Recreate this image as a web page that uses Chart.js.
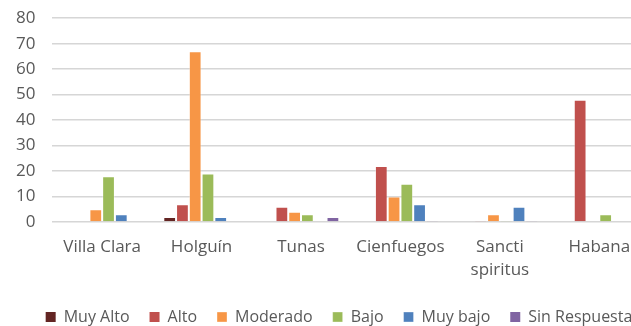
<!DOCTYPE html>
<html>
<head>
<meta charset="utf-8">
<script src="https://cdn.jsdelivr.net/npm/chart.js@4.4.1/dist/chart.umd.min.js"></script>
<style>
    html, body { margin: 0; padding: 0; overflow: hidden; background: #fff; }
    #wrap { position: absolute; left: 0; top: 0; }
</style>
</head>
<body>
<div id="wrap"><canvas id="chart" width="670" height="335"></canvas></div>
<script>
// provinces on the x axis (arrays = two-line labels)
const provincias = ["Villa Clara", "Holguín", "Tunas", "Cienfuegos", ["Sancti", "spiritus"], "Habana"];

// one series per risk level
const muyAlto      = [0, 2, 0, 0, 0, 0];
const alto         = [0, 7, 6, 22, 0.5, 48];
const moderado     = [5, 67, 4, 10, 3, 0];
const bajo         = [18, 19, 3, 15, 0.5, 3];
const muyBajo      = [3, 2, 0, 7, 6, 0];
const sinRespuesta = [0, 0, 2, 0.5, 0.5, 0];

const yTicks = { min: 0, max: 80, step: 10 };

const textColor = "#595959";
const fontFamily = "'Open Sans', 'Liberation Sans', sans-serif";

const series = [
    { label: "Muy Alto", data: muyAlto, color: "#632523" },
    { label: "Alto", data: alto, color: "#C0504D" },
    { label: "Moderado", data: moderado, color: "#F79646" },
    { label: "Bajo", data: bajo, color: "#9BBB59" },
    { label: "Muy bajo", data: muyBajo, color: "#4F81BD" },
    { label: "Sin Respuesta", data: sinRespuesta, color: "#8064A2" }
];

new Chart(document.getElementById("chart"), {
    type: "bar",
    data: {
        labels: provincias,
        datasets: series.map(s => ({
            label: s.label,
            data: s.data,
            backgroundColor: s.color,
            borderColor: "rgba(255,255,255,0.35)",
            borderWidth: ctx => (ctx.raw ? 1 : 0),
            categoryPercentage: 0.77,
            barPercentage: 1.0
        }))
    },
    options: {
        responsive: false,
        animation: false,
        layout: { padding: { top: 0, left: 8, right: 0, bottom: 0 } },
        plugins: {
            tooltip: { enabled: false },
            legend: {
                position: "bottom",
                labels: {
                    boxWidth: 10,
                    boxHeight: 10,
                    padding: 20,
                    color: textColor,
                    font: { family: fontFamily, size: 16 }
                }
            }
        },
        scales: {
            x: {
                grid: { display: false, drawTicks: false },
                border: { display: false },
                ticks: {
                    color: textColor,
                    padding: 14,
                    maxRotation: 0,
                    autoSkip: false,
                    font: { family: fontFamily, size: 17, lineHeight: 1.35 }
                },
                afterFit: scale => { scale.height = 67; }
            },
            y: {
                min: yTicks.min,
                max: yTicks.max,
                grid: {
                    color: "#d6d6d6",
                    lineWidth: 1.6,
                    drawTicks: true,
                    tickLength: 9,
                    tickColor: "rgba(0,0,0,0)"
                },
                border: { display: false },
                ticks: {
                    stepSize: yTicks.step,
                    color: textColor,
                    padding: 8,
                    font: { family: fontFamily, size: 17 }
                }
            },
            // empty right-hand margin so the plot ends before the legend does
            margen: {
                position: "right",
                grid: { display: false, drawTicks: false },
                border: { display: false },
                ticks: { display: false },
                afterFit: scale => { scale.width = 21; }
            }
        }
    }
});
</script>
</body>
</html>
